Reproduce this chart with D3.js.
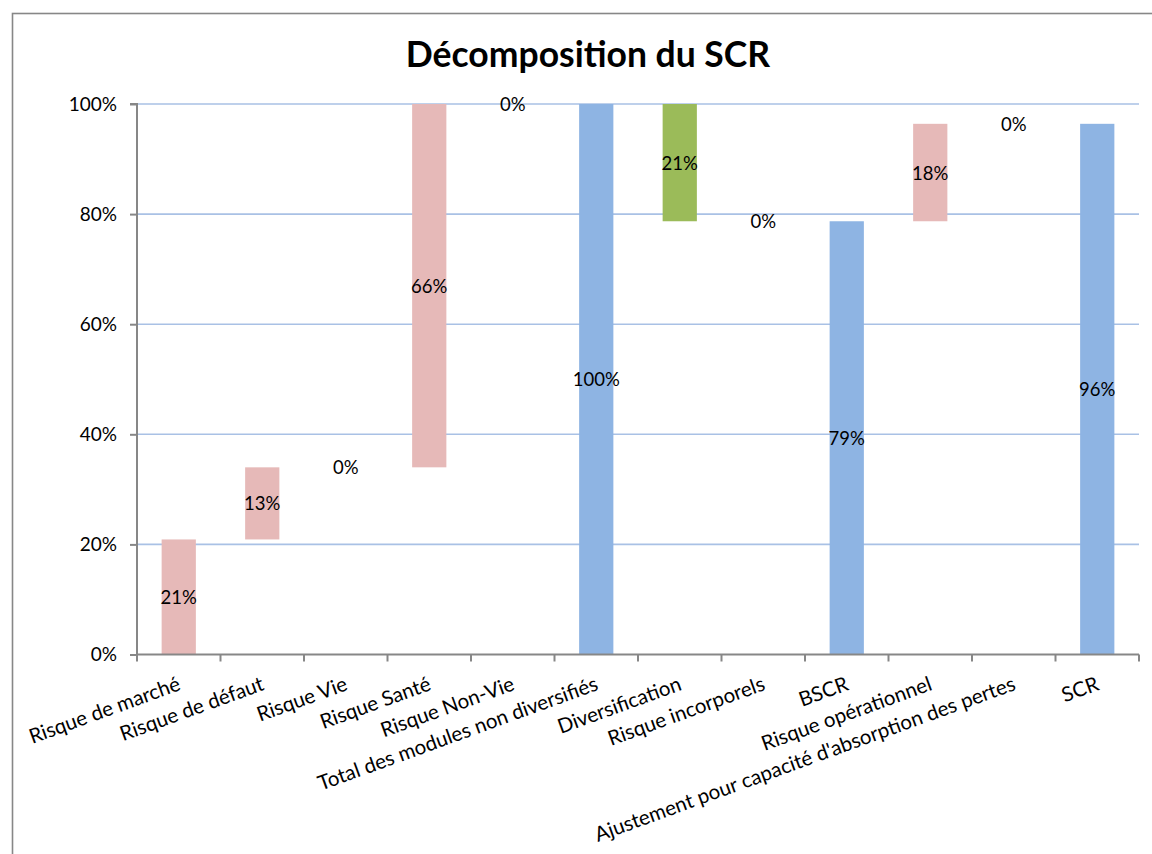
<!DOCTYPE html>
<html>
<head>
<meta charset="utf-8">
<script src="https://cdn.jsdelivr.net/npm/d3@7"></script>
<style>
  html, body { margin: 0; padding: 0; background: #fff; }
  svg { display: block; }
  text { font-family: Lato, "Open Sans", sans-serif; fill: #000; }
</style>
</head>
<body>
<svg id="chart" width="1152" height="854"></svg>
<script>
// ---- Data ----
const categories = [
  "Risque de marché",
  "Risque de défaut",
  "Risque Vie",
  "Risque Santé",
  "Risque Non-Vie",
  "Total des modules non diversifiés",
  "Diversification",
  "Risque incorporels",
  "BSCR",
  "Risque opérationnel",
  "Ajustement pour capacité d'absorption des pertes",
  "SCR"
];
const values = [0.209, 0.131, 0, 0.660, 0, 1.000, -0.213, 0, 0.787, 0.177, 0, 0.964];
const barTypes = ["delta", "delta", "delta", "delta", "delta", "total", "delta", "delta", "total", "delta", "delta", "total"];
const yTicks = [0, 0.2, 0.4, 0.6, 0.8, 1.0];
const titleText = "Décomposition du SCR";

// ---- Build waterfall rows ----
let cum = 0;
const rows = categories.map((c, i) => {
  const v = values[i];
  let start, end;
  if (barTypes[i] === "total") { start = 0; end = v; cum = v; }
  else { start = cum; end = cum + v; cum = end; }
  return { cat: c, value: v, type: barTypes[i], lo: Math.min(start, end), hi: Math.max(start, end), mid: (start + end) / 2 };
});

const svg = d3.select("#chart");
const pLeft = 137, pRight = 1139, pTop = 104, pBottom = 654.5;

// outer border
svg.append("rect").attr("x", 12.5).attr("y", 13.5).attr("width", 1160).attr("height", 900)
  .attr("fill", "none").attr("stroke", "#878787").attr("stroke-width", 1.6);

const x = d3.scaleBand().domain(categories).range([pLeft, pRight]).padding(0);
const y = d3.scaleLinear().domain([0, 1]).range([pBottom, pTop]);

// gridlines
svg.append("g").selectAll("line").data(yTicks.filter(t => t > 0)).join("line")
  .attr("x1", pLeft).attr("x2", pRight)
  .attr("y1", d => y(d)).attr("y2", d => y(d))
  .attr("stroke", "#a9c1e5").attr("stroke-width", 1.6);

// bars
const barW = x.bandwidth() * 0.41;
const color = d => d.type === "total" ? "#8eb4e3" : (d.value < 0 ? "#9bbb59" : "#e6b9b8");
svg.append("g").selectAll("rect").data(rows.filter(d => d.hi - d.lo > 0)).join("rect")
  .attr("x", d => x(d.cat) + x.bandwidth() / 2 - barW / 2)
  .attr("width", barW)
  .attr("y", d => y(d.hi))
  .attr("height", d => y(d.lo) - y(d.hi))
  .attr("fill", color);

// y axis
const yAxis = d3.axisLeft(y).tickValues(yTicks).tickFormat(d3.format(".0%")).tickSize(7).tickPadding(13);
const gy = svg.append("g").attr("transform", `translate(${pLeft},0)`).call(yAxis);
gy.selectAll("path, line").attr("stroke", "#878787").attr("stroke-width", 2);
gy.select(".domain").attr("d", `M-7,${pTop}H0V${pBottom}`);
gy.selectAll("text").attr("font-size", 19).attr("font-family", "Lato").attr("fill", "#000").attr("dy", "0.34em");

// x axis
const xAxis = d3.axisBottom(x).tickSize(0).tickFormat("");
const gx = svg.append("g").attr("transform", `translate(0,${pBottom})`).call(xAxis);
gx.select(".domain").attr("d", `M${pLeft},0H${pRight}`).attr("stroke", "#878787").attr("stroke-width", 2);
gx.selectAll(".tick").remove();
const edges = categories.map(c => x(c)).concat([pRight]);
gx.selectAll("line.edge").data(edges).join("line").attr("class", "edge")
  .attr("x1", d => d).attr("x2", d => d).attr("y1", 0).attr("y2", 7)
  .attr("stroke", "#878787").attr("stroke-width", 2);

// category labels
svg.append("g").selectAll("text").data(categories).join("text")
  .attr("transform", c => `translate(${x(c) + x.bandwidth() / 2 + 3},${pBottom + 35}) rotate(-20)`)
  .attr("text-anchor", "end")
  .attr("font-size", 20.5)
  .text(c => c);

// data labels
svg.append("g").selectAll("text").data(rows).join("text")
  .attr("x", d => x(d.cat) + x.bandwidth() / 2)
  .attr("y", d => y(d.mid) + 7)
  .attr("text-anchor", "middle")
  .attr("font-size", 18.5)
  .text(d => d3.format(".0%")(Math.abs(d.value)));

// title
svg.append("text").attr("x", 588).attr("y", 67).attr("text-anchor", "middle")
  .attr("font-size", 35.5).attr("font-weight", "bold").text(titleText);
</script>
</body>
</html>
